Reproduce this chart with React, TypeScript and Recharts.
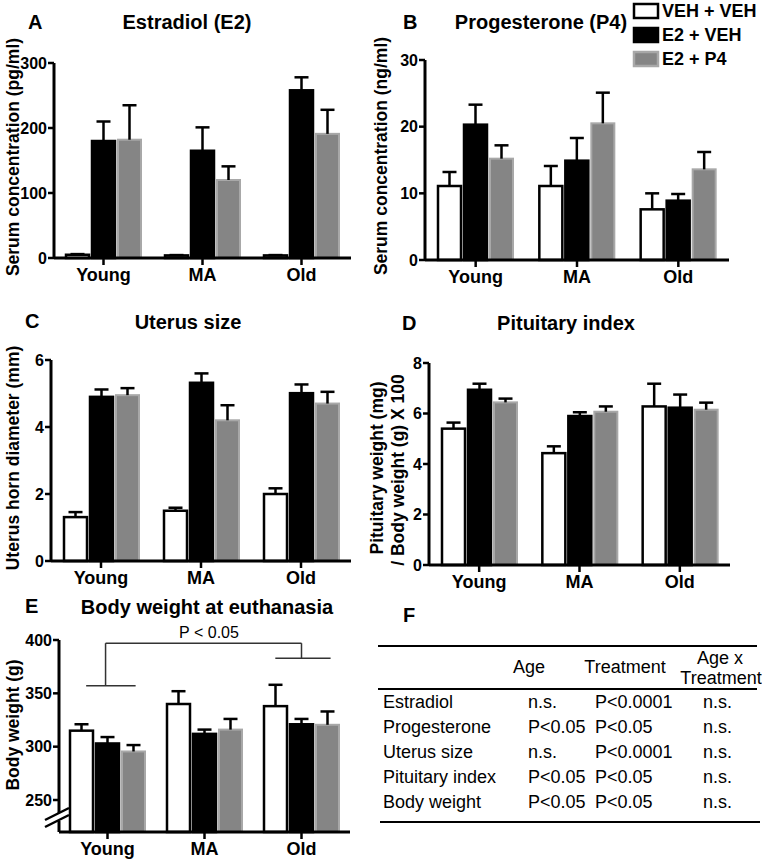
import React from 'react';
import { BarChart, Bar, XAxis, YAxis, ReferenceLine } from 'recharts';

const FONT = '"Liberation Sans", Arial, Helvetica, sans-serif';

const ages = ['Young', 'MA', 'Old'];
const groupNames = ['VEH + VEH', 'E2 + VEH', 'E2 + P4'];

// A - estradiol (pg/ml), mean and upper SEM
const estradiolVeh = [5, 4, 4];
const estradiolVehErr = [1, 0.5, 0.5];
const estradiolE2 = [180, 165, 258];
const estradiolE2Err = [30, 36, 20];
const estradiolP4 = [182, 120, 191];
const estradiolP4Err = [53, 21, 37];

// B - progesterone (ng/ml)
const progVeh = [11.1, 11.1, 7.6];
const progVehErr = [2.1, 3.0, 2.4];
const progE2 = [20.3, 14.9, 8.9];
const progE2Err = [3.0, 3.4, 1.0];
const progP4 = [15.2, 20.5, 13.6];
const progP4Err = [2.0, 4.6, 2.6];

// C - uterus horn diameter (mm)
const uterusVeh = [1.31, 1.5, 2.0];
const uterusVehErr = [0.15, 0.09, 0.17];
const uterusE2 = [4.9, 5.32, 5.01];
const uterusE2Err = [0.22, 0.28, 0.26];
const uterusP4 = [4.95, 4.2, 4.7];
const uterusP4Err = [0.21, 0.45, 0.35];

// D - pituitary index
const pitVeh = [5.4, 4.43, 6.28];
const pitVehErr = [0.24, 0.27, 0.9];
const pitE2 = [6.94, 5.9, 6.23];
const pitE2Err = [0.24, 0.15, 0.52];
const pitP4 = [6.44, 6.07, 6.15];
const pitP4Err = [0.15, 0.21, 0.28];

// E - body weight (g)
const bwVeh = [315, 340, 338];
const bwVehErr = [6, 12, 20];
const bwE2 = [303, 312, 321];
const bwE2Err = [6, 4, 5];
const bwP4 = [295.5, 316, 320.5];
const bwP4Err = [6, 10, 12.5];

// bracket over E (x in category units 0..3, y in grams)
const bracketTop = 397;
const bracketYoung = 357;
const bracketOld = 383;
const bracketEnds = [0.48, 2.5];
const bracketYoungSpan = [0.28, 0.79];
const bracketOldSpan = [2.23, 2.8];

// F - statistics table
const tableRows = ['Estradiol', 'Progesterone', 'Uterus size', 'Pituitary index', 'Body weight'];
const ageP = ['n.s.', 'P<0.05', 'n.s.', 'P<0.05', 'P<0.05'];
const treatmentP = ['P<0.0001', 'P<0.05', 'P<0.0001', 'P<0.05', 'P<0.05'];
const interactionP = ['n.s.', 'n.s.', 'n.s.', 'n.s.', 'n.s.'];

const toRows = (veh: number[], vehErr: number[], e2: number[], e2Err: number[], p4: number[], p4Err: number[]) =>
  ages.map((age, i) => ({
    age,
    slot: i + 0.5,
    veh: veh[i], vehErr: vehErr[i],
    e2: e2[i], e2Err: e2Err[i],
    p4: p4[i], p4Err: p4Err[i],
  }));

const SERIES = [
  { key: 'veh', err: 'vehErr', fill: '#ffffff', stroke: '#000000', sw: 2.5 },
  { key: 'e2', err: 'e2Err', fill: '#000000', stroke: '#000000', sw: 2.5 },
  { key: 'p4', err: 'p4Err', fill: '#858585', stroke: '#a8a8a8', sw: 2 },
];

// bar + upper error bar; error length scaled from the bar's own pixel height
function makeShape(key: string, errKey: string, base: number, fill: string, stroke: string, sw: number) {
  return (props: any) => {
    const { x, y, width, height, payload } = props;
    const v = payload[key];
    const k = v - base !== 0 ? height / (v - base) : 0;
    const top = y - payload[errKey] * k;
    const cx = x + width / 2;
    return (
      <g>
        <rect x={x} y={y} width={width} height={height} fill={fill} stroke={stroke} strokeWidth={sw} />
        <line x1={cx} x2={cx} y1={y} y2={top} stroke="#000" strokeWidth={2.5} />
        <line x1={cx - 7} x2={cx + 7} y1={top} y2={top} stroke="#000" strokeWidth={2.5} />
      </g>
    );
  };
}

const XH = 30;
const xTick = { fill: '#000', fontSize: 18, fontWeight: 700, fontFamily: FONT };
const yTick = { fill: '#000', fontSize: 16, fontWeight: 700, fontFamily: FONT };

type Box = { left: number; top: number; width: number; height: number };
type Plot = { x0: number; x1: number; y0: number; y1: number };

function Panel(props: {
  box: Box; plot: Plot; data: any[]; domain: number[]; ticks: number[]; base: number; children?: React.ReactNode;
}) {
  const { box, plot, data, domain, ticks, base, children } = props;
  const margin = {
    top: plot.y0 - box.top,
    right: box.left + box.width - plot.x1,
    bottom: box.top + box.height - plot.y1 - XH,
    left: 0,
  };
  return (
    <div style={{ position: 'absolute', left: box.left, top: box.top }}>
      <BarChart width={box.width} height={box.height} data={data} margin={margin} barSize={23} barGap={3}>
        <XAxis
          dataKey="age"
          height={XH}
          interval={0}
          tick={xTick}
          tickSize={7}
          tickMargin={3}
          axisLine={{ stroke: '#000', strokeWidth: 3 }}
          tickLine={{ stroke: '#000', strokeWidth: 2.5 }}
        />
        <YAxis
          type="number"
          width={plot.x0 - box.left}
          domain={domain}
          ticks={ticks}
          interval={0}
          tick={yTick}
          tickSize={6}
          tickMargin={1}
          axisLine={{ stroke: '#000', strokeWidth: 3 }}
          tickLine={{ stroke: '#000', strokeWidth: 2.5 }}
        />
        {SERIES.map((s) => (
          <Bar
            key={s.key}
            dataKey={s.key}
            isAnimationActive={false}
            shape={makeShape(s.key, s.err, base, s.fill, s.stroke, s.sw)}
          />
        ))}
        {children}
      </BarChart>
    </div>
  );
}

const bracketStyle = { stroke: '#333', strokeWidth: 1.5, ifOverflow: 'visible' as const };

function Overlay() {
  const title = { fontFamily: FONT, fontSize: 20, fontWeight: 700, fill: '#000' };
  const axisLab = { fontFamily: FONT, fontSize: 17.5, fontWeight: 700, fill: '#000' };
  const legendText = { fontFamily: FONT, fontSize: 18, fontWeight: 700, fill: '#000' };
  const cell = { fontFamily: FONT, fontSize: 18, fill: '#000' };
  const vlabel = (text: string, cx: number, cy: number) => (
    <text transform={`translate(${cx},${cy}) rotate(-90)`} textAnchor="middle" dominantBaseline="central" style={axisLab}>
      {text}
    </text>
  );
  return (
    <svg width={762} height={863} style={{ position: 'absolute', left: 0, top: 0, pointerEvents: 'none' }}>
      {/* panel letters and titles */}
      <text x={28} y={29} style={title}>A</text>
      <text x={187} y={29} textAnchor="middle" style={title}>Estradiol (E2)</text>
      <text x={403} y={29} style={title}>B</text>
      <text x={541} y={29} textAnchor="middle" style={title}>Progesterone (P4)</text>
      <text x={25} y={328} style={title}>C</text>
      <text x={188} y={329} textAnchor="middle" style={title}>Uterus size</text>
      <text x={402} y={330} style={title}>D</text>
      <text x={566} y={330} textAnchor="middle" style={title}>Pituitary index</text>
      <text x={25} y={613} style={title}>E</text>
      <text x={207} y={614} textAnchor="middle" style={title}>Body weight at euthanasia</text>
      <text x={403} y={622} style={title}>F</text>

      {/* y-axis labels */}
      {vlabel('Serum concentration (pg/ml)', 13, 157)}
      {vlabel('Serum concentration (ng/ml)', 381, 156)}
      {vlabel('Uterus horn diameter (mm)', 12.5, 458)}
      {vlabel('Pituitary weight  (mg)', 377, 468)}
      {vlabel('/ Body weight (g) X 100', 398, 470)}
      {vlabel('Body weight (g)', 12.5, 725)}

      {/* legend */}
      {groupNames.map((g, i) => (
        <g key={g}>
          <rect x={634} y={4 + i * 24} width={24} height={14} fill={SERIES[i].fill} stroke={SERIES[i].stroke} strokeWidth={2.5} />
          <text x={662} y={17 + i * 24} style={legendText}>{g}</text>
        </g>
      ))}

      {/* axis break on E */}
      <rect x={54} y={813} width={10} height={8} fill="#fff" />
      <line x1={45} y1={820} x2={69} y2={808} stroke="#000" strokeWidth={2.5} />
      <line x1={45} y1={827} x2={69} y2={815} stroke="#000" strokeWidth={2.5} />
      <text x={209} y={638} textAnchor="middle" style={{ fontFamily: FONT, fontSize: 16, fill: '#000' }}>P &lt; 0.05</text>

      {/* table F */}
      <line x1={378} x2={757} y1={646} y2={646} stroke="#000" strokeWidth={2} />
      <text x={529} y={673} textAnchor="middle" style={cell}>Age</text>
      <text x={625} y={673} textAnchor="middle" style={cell}>Treatment</text>
      <text x={720} y={664} textAnchor="middle" style={cell}>Age x</text>
      <text x={721} y={684} textAnchor="middle" style={cell}>Treatment</text>
      <line x1={378} x2={757} y1={689} y2={689} stroke="#000" strokeWidth={2} />
      {tableRows.map((r, i) => (
        <g key={r}>
          <text x={383} y={708 + i * 25} style={cell}>{r}</text>
          <text x={528} y={708 + i * 25} style={cell}>{ageP[i]}</text>
          <text x={595} y={708 + i * 25} style={cell}>{treatmentP[i]}</text>
          <text x={703} y={708 + i * 25} style={cell}>{interactionP[i]}</text>
        </g>
      ))}
      <line x1={380} x2={760} y1={822} y2={822} stroke="#000" strokeWidth={2} />
    </svg>
  );
}

export default function App() {
  return (
    <div style={{ position: 'absolute', left: 0, top: 0, width: 762, height: 863, background: '#fff', fontFamily: FONT }}>
      <Panel
        box={{ left: 0, top: 40, width: 381, height: 260 }}
        plot={{ x0: 54, x1: 351, y0: 63, y1: 258 }}
        data={toRows(estradiolVeh, estradiolVehErr, estradiolE2, estradiolE2Err, estradiolP4, estradiolP4Err)}
        domain={[0, 300]}
        ticks={[0, 100, 200, 300]}
        base={0}
      />
      <Panel
        box={{ left: 381, top: 40, width: 381, height: 260 }}
        plot={{ x0: 425, x1: 729, y0: 60, y1: 260 }}
        data={toRows(progVeh, progVehErr, progE2, progE2Err, progP4, progP4Err)}
        domain={[0, 30]}
        ticks={[0, 10, 20, 30]}
        base={0}
      />
      <Panel
        box={{ left: 0, top: 340, width: 381, height: 262 }}
        plot={{ x0: 51, x1: 351, y0: 360, y1: 561 }}
        data={toRows(uterusVeh, uterusVehErr, uterusE2, uterusE2Err, uterusP4, uterusP4Err)}
        domain={[0, 6]}
        ticks={[0, 2, 4, 6]}
        base={0}
      />
      <Panel
        box={{ left: 381, top: 340, width: 381, height: 262 }}
        plot={{ x0: 429, x1: 730, y0: 363, y1: 565 }}
        data={toRows(pitVeh, pitVehErr, pitE2, pitE2Err, pitP4, pitP4Err)}
        domain={[0, 8]}
        ticks={[0, 2, 4, 6, 8]}
        base={0}
      />
      <Panel
        box={{ left: 0, top: 625, width: 381, height: 238 }}
        plot={{ x0: 59, x1: 350, y0: 640, y1: 832 }}
        data={toRows(bwVeh, bwVehErr, bwE2, bwE2Err, bwP4, bwP4Err)}
        domain={[220, 400]}
        ticks={[250, 300, 350, 400]}
        base={220}
      >
        <XAxis xAxisId="n" dataKey="slot" type="number" domain={[0, 3]} allowDataOverflow hide />
        <ReferenceLine xAxisId="n" {...bracketStyle} segment={[{ x: bracketYoungSpan[0], y: bracketYoung }, { x: bracketYoungSpan[1], y: bracketYoung }]} />
        <ReferenceLine xAxisId="n" {...bracketStyle} segment={[{ x: bracketEnds[0], y: bracketYoung }, { x: bracketEnds[0], y: bracketTop }]} />
        <ReferenceLine xAxisId="n" {...bracketStyle} segment={[{ x: bracketEnds[0], y: bracketTop }, { x: bracketEnds[1], y: bracketTop }]} />
        <ReferenceLine xAxisId="n" {...bracketStyle} segment={[{ x: bracketEnds[1], y: bracketTop }, { x: bracketEnds[1], y: bracketOld }]} />
        <ReferenceLine xAxisId="n" {...bracketStyle} segment={[{ x: bracketOldSpan[0], y: bracketOld }, { x: bracketOldSpan[1], y: bracketOld }]} />
      </Panel>
      <Overlay />
    </div>
  );
}
